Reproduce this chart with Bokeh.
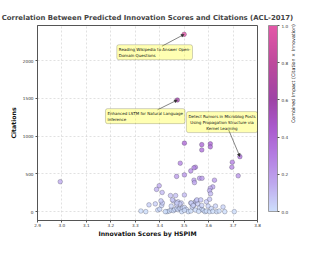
import numpy as np
from bokeh.plotting import figure
from bokeh.models import (ColumnDataSource, LinearColorMapper, ColorBar, FixedTicker,
                          PrintfTickFormatter, Label, Arrow, NormalHead, Range1d, LinearAxis)
from bokeh.embed import file_html
from bokeh.resources import INLINE

# ---------------- data ----------------
innovation = [
    2.993, 3.500, 3.472, 3.728,
    3.323, 3.343, 3.356, 3.382, 3.392, 3.400, 3.408, 3.411, 3.405, 3.398,
    3.387, 3.410, 3.444, 3.465, 3.430, 3.439, 3.447, 3.456, 3.462, 3.470,
    3.475, 3.482, 3.488, 3.494, 3.501, 3.509, 3.517, 3.527, 3.533, 3.540,
    3.546, 3.550, 3.555, 3.563, 3.572, 3.578, 3.585, 3.591, 3.598, 3.604,
    3.611, 3.628, 3.633, 3.643, 3.659, 3.666, 3.705, 3.456, 3.475, 3.488,
    3.469, 3.482, 3.527, 3.572, 3.591, 3.604, 3.423, 3.490, 3.501, 3.546,
    3.559, 3.617, 3.447, 3.501, 3.470, 3.452, 3.552, 3.568, 3.529, 3.537,
    3.501, 3.572, 3.607, 3.607, 3.572, 3.697, 3.695, 3.721, 3.484, 3.546,
    3.540, 3.527, 3.469, 3.501, 3.563, 3.573, 3.540, 3.542, 3.624, 3.617,
    3.607, 3.604, 3.608,
]
citations = [
    397, 2350, 1480, 729,
    8, 0, 90, 103, 21, 33, 82, 115, 143, 344,
    295, 254, 213, 213, 0, 8, 21, 13, 29, 41,
    25, 41, 33, 49, 54, 29, 0, 8, 62, 90,
    131, 143, 103, 49, 29, 17, 0, 8, 74, 0,
    41, 74, 0, 8, 62, 0, 0, 143, 131, 115,
    90, 103, 115, 82, 131, 164, 0, 0, 17, 21,
    4, 4, 74, 221, 115, 156, 156, 156, 115, 82,
    908, 888, 900, 859, 818, 655, 589, 475, 642, 589,
    581, 540, 467, 487, 442, 442, 417, 385, 417, 328,
    311, 278, 238,
]
annotated_index = [1, 2, 3]
annotated_titles = [
    "Reading Wikipedia to Answer Open-\nDomain Questions",
    "Enhanced LSTM for Natural Language\nInference",
    "Detect Rumors in Microblog Posts\nUsing Propagation Structure via\nKernel Learning",
]
x_ticks = [2.9, 3.0, 3.1, 3.2, 3.3, 3.4, 3.5, 3.6, 3.7, 3.8]
y_ticks = [0, 500, 1000, 1500, 2000]
cbar_ticks = [0.0, 0.2, 0.4, 0.6, 0.8, 1.0]

title_text = "Correlation Between Predicted Innovation Scores and Citations (ACL-2017)"
x_label = "Innovation Scores by HSPIM"
y_label = "Citations"
cbar_label = "Combined Impact (Citation \u00d7 Innovation)"

# ---------------- derived ----------------
inn = np.array(innovation, dtype=float)
cit = np.array(citations, dtype=float)
prod = inn * cit
impact = (prod - prod.min()) / (prod.max() - prod.min())

# colormap: light blue -> lavender -> purple -> pink
stops = [(0.0, (205, 222, 252)), (0.15, (190, 168, 238)), (0.3, (180, 125, 226)),
         (0.45, (170, 90, 205)), (0.6, (158, 68, 166)), (0.8, (190, 74, 156)),
         (1.0, (228, 88, 168))]
palette = []
for i in range(256):
    t = i / 255
    for (a, ca), (b, cb_) in zip(stops[:-1], stops[1:]):
        if a <= t <= b:
            f = (t - a) / (b - a)
            c = [int(round(ca[k] + f * (cb_[k] - ca[k]))) for k in range(3)]
            palette.append("#%02x%02x%02x" % tuple(c))
            break
mapper = LinearColorMapper(palette=palette, low=0, high=1)

src = ColumnDataSource(dict(x=inn, y=cit, impact=impact))

FONT = "DejaVu Sans"
p = figure(width=301, height=239, output_backend="svg", toolbar_location=None,
           x_range=Range1d(2.9, 3.8), y_range=Range1d(-117.5, 2467.5),
           min_border_left=37, min_border_right=40, min_border_top=25, min_border_bottom=10)
p.title.text = title_text
p.title.text_font = FONT
p.title.text_font_size = "6.9px"
p.title.text_font_style = "bold"
p.title.align = "center"
p.title.standoff = 7
p.title.offset = 2

p.scatter("x", "y", source=src, size=4.6,
          fill_color={"field": "impact", "transform": mapper}, fill_alpha=0.8,
          line_color="#333344", line_alpha=0.55, line_width=0.5)

for ax in (p.xaxis[0], p.yaxis[0]):
    ax.axis_line_color = "#555555"
    ax.major_tick_line_color = "#555555"
    ax.major_tick_out = 2
    ax.major_tick_in = 0
    ax.minor_tick_line_color = None
    ax.major_label_text_font = FONT
    ax.major_label_text_font_size = "4.2px"
    ax.major_label_text_color = "#333333"
    ax.axis_label_text_font = FONT
    ax.axis_label_text_font_size = "6.2px"
    ax.axis_label_text_font_style = "bold"
    ax.axis_label_text_color = "#111111"
p.xaxis.major_label_standoff = 0
p.xaxis.axis_label_standoff = 0
p.yaxis.major_label_standoff = 2
p.yaxis.axis_label_standoff = 3

p.xaxis.ticker = FixedTicker(ticks=x_ticks)
p.xaxis.formatter = PrintfTickFormatter(format="%.1f")
p.yaxis.ticker = FixedTicker(ticks=y_ticks)
p.xaxis.axis_label = x_label
p.yaxis.axis_label = y_label

p.grid.grid_line_color = "#cccccc"
p.grid.grid_line_dash = "2 2"
p.grid.grid_line_width = 0.6
p.outline_line_color = "#555555"
p.outline_line_width = 1

# annotations (text placement in data space, arrow start at box edge)
label_pos = [(3.2244, 2113, "left"), (3.178, 1266, "left"), (3.6547, 1187, "center")]
arrow_start = [(3.409, 2193), (3.391, 1350), (3.6818, 1085)]
for k, idx in enumerate(annotated_index):
    lx, ly, al = label_pos[k]
    sx, sy = arrow_start[k]
    p.add_layout(Arrow(end=NormalHead(size=3, fill_color="#333333", line_color="#333333", line_width=0.5),
                       x_start=sx, y_start=sy, x_end=innovation[idx], y_end=citations[idx],
                       line_color="#333333", line_width=0.6))
    p.add_layout(Label(x=lx, y=ly, text=annotated_titles[k], text_align=al, text_baseline="middle",
                       text_font=FONT, text_font_size="4px", text_color="#111111",
                       background_fill_color="yellow", background_fill_alpha=0.3,
                       border_line_color="black", border_line_alpha=0.3, border_line_width=0.6,
                       padding=2, border_radius=2))

cb = ColorBar(color_mapper=mapper, width=9, height=186, location=(11, 9),
              ticker=FixedTicker(ticks=cbar_ticks), formatter=PrintfTickFormatter(format="%.1f"),
              major_label_text_font=FONT, major_label_text_font_size="4.2px",
              major_label_text_color="#333333", major_tick_out=2, major_tick_in=0,
              major_tick_line_color="#555555", bar_line_color="#888888", bar_line_width=0.8,
              label_standoff=2, padding=0, margin=0, background_fill_alpha=0,
              border_line_color=None)
p.add_layout(cb, "right")

# colorbar label as a bare right-hand axis label
rax = LinearAxis(axis_label=cbar_label, ticker=FixedTicker(ticks=[]),
                 axis_line_color=None, major_tick_line_color=None, minor_tick_line_color=None,
                 major_tick_out=0, major_tick_in=0, major_label_standoff=0,
                 major_label_text_font_size="0px", axis_label_standoff=2,
                 axis_label_text_font=FONT, axis_label_text_font_size="4.8px",
                 axis_label_text_font_style="normal", axis_label_text_color="#111111")
try:
    rax.axis_label_orientation = np.pi / 2
except Exception:
    pass
p.add_layout(rax, "right")

open("out.html", "w").write(file_html(p, INLINE))
